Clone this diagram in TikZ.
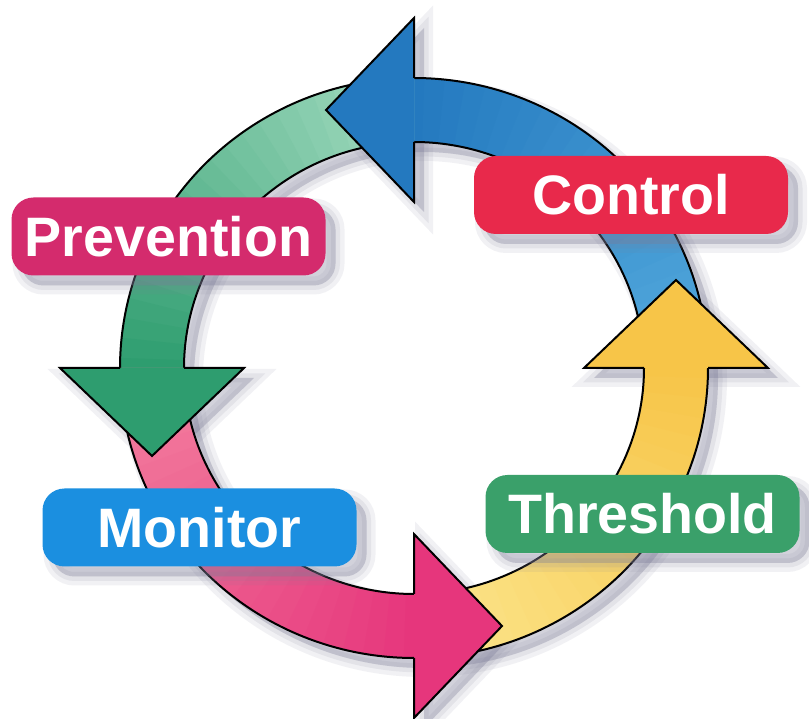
\documentclass[tikz,border=0pt]{standalone}
\usepackage{fontspec}
\setmainfont{Liberation Sans}
\usetikzlibrary{calc}

\definecolor{blueL}{HTML}{52A9DD}
\definecolor{blueD}{HTML}{2479BF}
\definecolor{greenL}{HTML}{A3DBC0}
\definecolor{greenD}{HTML}{2E9D6F}
\definecolor{pinkL}{HTML}{F3809F}
\definecolor{pinkD}{HTML}{E6367C}
\definecolor{yellowL}{HTML}{FBE58C}
\definecolor{yellowD}{HTML}{F7C548}
\definecolor{controlC}{HTML}{E8294B}
\definecolor{preventionC}{HTML}{D42B6D}
\definecolor{monitorC}{HTML}{1B8FE0}
\definecolor{thresholdC}{HTML}{3AA06A}
\definecolor{shadowC}{HTML}{7E7E98}

% outline of one whole arrow, head base at angle #1
\newcommand\arrowoutline[1]{(#1-90:294 and 290)
  arc[start angle=#1-90, end angle=#1, x radius=294, y radius=290]
  -- (#1:354 and 350) -- ($(#1:262 and 258)+(#1+90:88)$) -- (#1:170 and 166)
  -- (#1:230 and 226)
  arc[start angle=#1, end angle=#1-90, x radius=230, y radius=226] -- cycle}

\begin{document}
\begin{tikzpicture}[x=0.5pt,y=0.5pt,
    ring line/.style={line width=1pt,line join=miter},
    soft shadow/.style={
      preaction={fill=shadowC,draw=shadowC,line width=9pt,opacity=0.1,
        transform canvas={shift={(5pt,-5pt)}}},
      preaction={fill=shadowC,draw=shadowC,line width=4.5pt,opacity=0.12,
        transform canvas={shift={(5pt,-5pt)}}},
      preaction={fill=shadowC,opacity=0.16,
        transform canvas={shift={(5pt,-5pt)}}}},
    label box/.style={rounded corners=11pt,minimum width=157pt,minimum height=39pt,
      inner sep=0pt,text=white,text height=20pt,text depth=0pt,
      font=\fontsize{27.8}{30}\selectfont\bfseries}]
\useasboundingbox[fill=white] (0,0) rectangle (809,718);

\begin{scope}[shift={(414,350)}]
% shadows first
\foreach \h in {90,180,270,0}
  \path[soft shadow] \arrowoutline{\h};
% shafts, light at the tail
\foreach \h/\light/\dark in {90/blueL/blueD,180/greenL/greenD,270/pinkL/pinkD,0/yellowL/yellowD} {
  \foreach \i [evaluate=\i as \a using \h-90+4*\i, evaluate=\i as \p using 100*\i/22] in {0,...,22}
    \fill[\dark!\p!\light] (\a:294 and 290)
      arc[start angle=\a, end angle=\a+4.5, x radius=294, y radius=290]
      -- (\a+4.5:230 and 226)
      arc[start angle=\a+4.5, end angle=\a, x radius=230, y radius=226] -- cycle;
  \draw[ring line] (\h-90:294 and 290) arc[start angle=\h-90, end angle=\h+2, x radius=294, y radius=290];
  \draw[ring line] (\h-90:230 and 226) arc[start angle=\h-90, end angle=\h+2, x radius=230, y radius=226];
}
% heads
\foreach \h/\dark in {90/blueD,180/greenD,270/pinkD,0/yellowD}
  \filldraw[ring line,fill=\dark] (\h:230 and 226) -- (\h:170 and 166)
    -- ($(\h:262 and 258)+(\h+90:88)$) -- (\h:354 and 350) -- (\h:294 and 290);
\end{scope}

\node[label box,fill=controlC,soft shadow] (control) at (631,523) {Control};
\node[label box,fill=preventionC,soft shadow] (prevention) at (168.5,481.5) {Prevention};
\node[label box,fill=monitorC,soft shadow] (monitor) at (199.5,190.5) {Monitor};
\node[label box,fill=thresholdC,soft shadow] (threshold) at (642.5,204) {Threshold};
\end{tikzpicture}
\end{document}
